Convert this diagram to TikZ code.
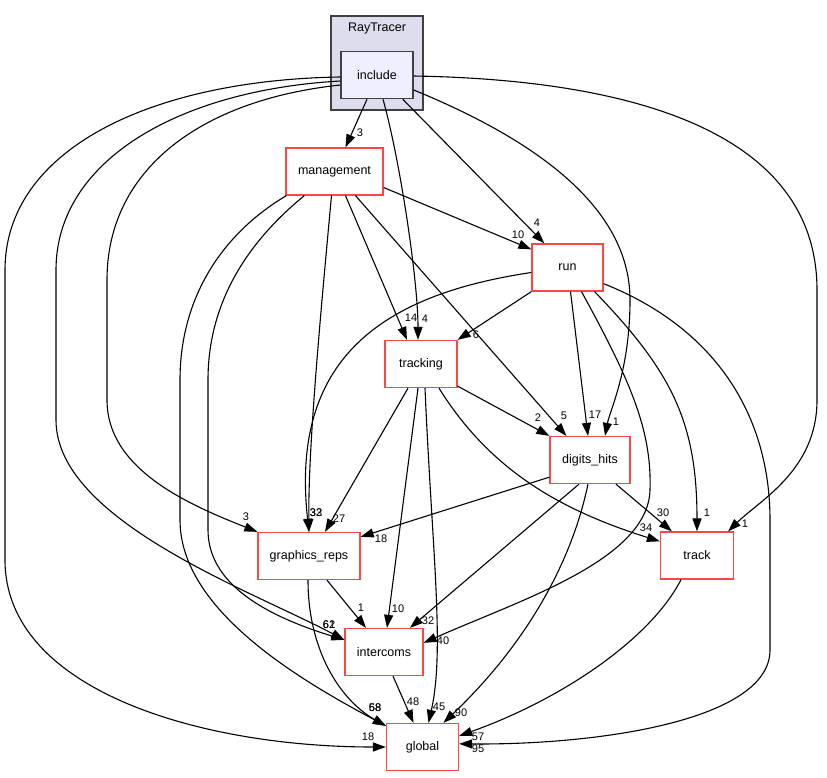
\documentclass[tikz,border=0pt]{standalone}
\usepackage{fontspec}
\setmainfont{Liberation Sans}
\usepackage{xcolor}
\definecolor{dirred}{RGB}{255,70,70}
\definecolor{clusterfill}{RGB}{221,221,238}
\definecolor{incfill}{RGB}{238,238,255}
\definecolor{frame}{RGB}{64,64,64}
\usetikzlibrary{arrows.meta}

\begin{document}
\begin{tikzpicture}[x=1pt, y=-1pt,
  every node/.style={font=\fontsize{12.5}{14}\selectfont},
  dirbox/.style={draw=dirred, fill=white, line width=1.3pt, minimum width=#1, minimum height=47pt, inner sep=0pt},
  dirbox/.default=72pt,
  incbox/.style={draw=frame, fill=incfill, line width=1.5pt, minimum width=72pt, minimum height=47pt, inner sep=0pt},
  clusterbox/.style={draw=frame, fill=clusterfill, line width=1.5pt, minimum width=92pt, minimum height=94pt, inner sep=0pt},
  dep/.style={-{Triangle[length=13pt,width=9pt]}, line width=1.1pt},
  lbl/.style={font=\fontsize{11}{12}\selectfont, inner sep=0pt}
]
\useasboundingbox (0,0) rectangle (827,777);

% directories
\node[clusterbox] (raytracer) at (377,63) {};
\node (rtname) at (377,28) {RayTracer};
\node[incbox] (include) at (377,75) {include};
\node[dirbox=97pt] (management) at (334.5,171.5) {management};
\node[dirbox=71pt] (run) at (567.5,267.5) {run};
\node[dirbox] (tracking) at (421,364) {tracking};
\node[dirbox=80pt] (digits_hits) at (590,460) {digits\_hits};
\node[dirbox=102pt] (graphics_reps) at (309,556) {graphics\_reps};
\node[dirbox=73pt] (track) at (697,555.5) {track};
\node[dirbox=78pt] (intercoms) at (384,652) {intercoms};
\node[dirbox] (global) at (422.5,747) {global};

% from include
\draw[dep] ([yshift=-2pt]include.west) .. controls (150,80) and (5,150) .. (5,270)
  -- (5,560) .. controls (5,690) and (200,747) .. (global.west);
\draw[dep] ([yshift=-6pt]include.west) .. controls (180,90) and (56,160) .. (56,270)
  -- (56,420) .. controls (56,520) and (250,590) .. ([yshift=-12pt]intercoms.north west);
\draw[dep] ([yshift=-10pt]include.west) .. controls (200,100) and (107,170) .. (107,280)
  -- (107,400) .. controls (107,470) and (190,505) .. (graphics_reps.north west);
\draw[dep] ([xshift=-10pt]include.south) -- ([xshift=11pt]management.north);
\draw[dep] ([xshift=6pt]include.south) .. controls (400,160) and (418,280) .. ([xshift=-3pt]tracking.north);
\draw[dep] ([xshift=-11pt]include.south east) -- ([xshift=13pt]run.north west);
\draw[dep] ([yshift=-15pt]include.east) .. controls (560,150) and (630,220) .. (630,300)
  .. controls (630,370) and (610,410) .. ([xshift=15pt]digits_hits.north);
\draw[dep] ([yshift=-1pt]include.east) .. controls (650,80) and (817,140) .. (817,290)
  -- (817,400) .. controls (817,470) and (760,500) .. ([xshift=-6pt]track.north east);

% from management
\draw[dep] ([xshift=1pt]management.south west) .. controls (220,235) and (180,300) .. (180,380)
  -- (180,520) .. controls (180,610) and (300,680) .. ([yshift=-3pt]global.north west);
\draw[dep] ([xshift=19pt]management.south west) .. controls (250,240) and (208,300) .. (208,380)
  -- (208,530) .. controls (208,590) and (280,620) .. ([yshift=-12pt]intercoms.north west);
\draw[dep] ([xshift=-3pt]management.south) .. controls (320,320) and (308,450) .. (graphics_reps.north);
\draw[dep] ([xshift=11pt]management.south) -- ([xshift=-14pt]tracking.north);
\draw[dep] ([xshift=21pt]management.south) -- ([xshift=17pt]digits_hits.north west);
\draw[dep] ([yshift=-16pt]management.east) -- ([yshift=-6pt]run.north west);

% from run
\draw[dep] ([yshift=-5pt]run.west) .. controls (380,295) and (290,360) .. (graphics_reps.north);
\draw[dep] (run.south west) -- (tracking.north east);
\draw[dep] ([xshift=3pt]run.south) -- ([xshift=-2pt]digits_hits.north);
\draw[dep] ([xshift=-9pt]run.south east) .. controls (670,370) and (697,420) .. (track.north);
\draw[dep] ([xshift=14pt]run.south) .. controls (630,380) and (652,430) .. (650,490)
  .. controls (648,560) and (520,600) .. ([yshift=-15pt]intercoms.north east);
\draw[dep] ([yshift=8pt]run.south east) .. controls (720,330) and (770,420) .. (770,520)
  -- (770,650) .. controls (770,720) and (600,745) .. ([yshift=-21pt]global.north east);

% from tracking
\draw[dep] ([yshift=2pt]tracking.south east) -- (digits_hits.north west);
\draw[dep] ([xshift=-13pt]tracking.south) -- ([xshift=16pt]graphics_reps.north);
\draw[dep] ([xshift=-3pt]tracking.south) -- ([xshift=3pt]intercoms.north);
\draw[dep] ([xshift=4pt]tracking.south) .. controls (432,550) and (445,650) .. ([xshift=6pt]global.north);
\draw[dep] ([xshift=18pt]tracking.south) .. controls (490,470) and (560,510) .. ([yshift=-10pt]track.north west);

% from digits_hits
\draw[dep] ([yshift=7pt]digits_hits.south west) -- ([yshift=-5pt]graphics_reps.north east);
\draw[dep] ([xshift=-11pt]digits_hits.south) -- ([xshift=26pt]intercoms.north);
\draw[dep] ([xshift=-2pt]digits_hits.south) .. controls (570,570) and (520,650) .. ([xshift=21pt]global.north);
\draw[dep] ([xshift=26pt]digits_hits.south) -- ([xshift=12pt]track.north west);

% lower ones
\draw[dep] ([xshift=18pt]graphics_reps.south) -- ([xshift=-18pt]intercoms.north);
\draw[dep] ([xshift=-1pt]graphics_reps.south) .. controls (308,650) and (340,700) .. ([yshift=-3pt]global.north west);
\draw[dep] ([xshift=-16pt]track.south) .. controls (650,640) and (560,700) .. ([yshift=-13pt]global.north east);
\draw[dep] ([xshift=9pt]intercoms.south) -- ([xshift=-9pt]global.north);

% counts
\node[lbl] (n1) at (360,133) {3};
\node[lbl] (n2) at (518,235) {10};
\node[lbl] (n3) at (537,223) {4};
\node[lbl] (n4) at (411,318) {14};
\node[lbl] (n5) at (425,319) {4};
\node[lbl] (n6) at (476,335) {6};
\node[lbl] (n7) at (538,418) {2};
\node[lbl] (n8) at (564,416) {5};
\node[lbl] (n9) at (595,415) {17};
\node[lbl] (n10) at (616,422) {1};
\node[lbl] (n11) at (246,517) {3};
\node[lbl] (n12) at (316,513) {32};
\node[lbl] (n13) at (316,513) {33};
\node[lbl] (n14) at (339,519) {27};
\node[lbl] (n15) at (381,539) {18};
\node[lbl] (n16) at (361,608) {1};
\node[lbl] (n17) at (398,609) {10};
\node[lbl] (n18) at (428,621) {32};
\node[lbl] (n19) at (443,641) {40};
\node[lbl] (n20) at (329,625) {61};
\node[lbl] (n21) at (329,625) {62};
\node[lbl] (n22) at (663,513) {30};
\node[lbl] (n23) at (646,528) {34};
\node[lbl] (n24) at (707,513) {1};
\node[lbl] (n25) at (745,524) {1};
\node[lbl] (n26) at (413,702) {48};
\node[lbl] (n27) at (439,707) {45};
\node[lbl] (n28) at (461,713) {90};
\node[lbl] (n29) at (478,737) {57};
\node[lbl] (n30) at (478,749) {95};
\node[lbl] (n31) at (375,708) {58};
\node[lbl] (n32) at (375,708) {68};
\node[lbl] (n33) at (368,737) {18};
\end{tikzpicture}
\end{document}
